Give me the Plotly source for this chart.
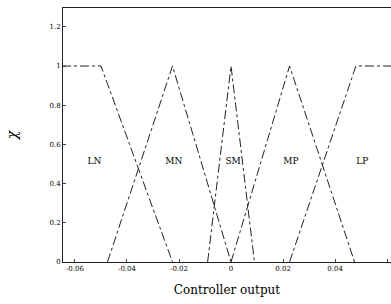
import plotly.graph_objects as go

# Membership functions (x in controller output units, y = membership grade)
ln_x = [-0.065, -0.05, -0.0225]
ln_y = [1, 1, 0]
mn_x = [-0.0475, -0.0225, 0.0]
mn_y = [0, 1, 0]
sm_x = [-0.009, 0.0, 0.009]
sm_y = [0, 1, 0]
mp_x = [0.0, 0.0225, 0.0475]
mp_y = [0, 1, 0]
lp_x = [0.0225, 0.048, 0.065]
lp_y = [0, 1, 1]

labels = ["LN", "MN", "SM", "MP", "LP"]
label_x = [-0.0525, -0.022, 0.0008, 0.023, 0.0505]
label_y = [0.51, 0.51, 0.51, 0.51, 0.51]

x_ticks = [-0.06, -0.04, -0.02, 0, 0.02, 0.04, 0.06]
x_tick_text = ["-0.06", "-0.04", "-0.02", "0", "0.02", "0.04", "0.06"]
y_ticks = [0, 0.2, 0.4, 0.6, 0.8, 1, 1.2]
y_tick_text = ["0", "0.2", "0.4", "0.6", "0.8", "1", "1.2"]

font = "DejaVu Serif"
fig = go.Figure()
for xs, ys in [(ln_x, ln_y), (mn_x, mn_y), (sm_x, sm_y), (mp_x, mp_y), (lp_x, lp_y)]:
    fig.add_trace(go.Scatter(x=xs, y=ys, mode="lines",
                             line=dict(color="#222", width=1, dash="dashdot"),
                             showlegend=False, hoverinfo="skip"))

fig.add_trace(go.Scatter(x=label_x, y=label_y, mode="text", text=labels,
                         textfont=dict(family=font, size=9, color="#000"),
                         showlegend=False, hoverinfo="skip"))

fig.update_layout(
    width=391, height=304,
    margin=dict(l=63, r=0, t=8, b=42, autoexpand=False),
    paper_bgcolor="white", plot_bgcolor="white",
    font=dict(family=font, color="#000"),
    xaxis=dict(range=[-0.0646, 0.0615], tickvals=x_ticks, ticktext=x_tick_text,
               showgrid=False, zeroline=False, showline=True, linecolor="#222",
               linewidth=1, mirror=True, ticks="inside", ticklen=3,
               tickfont=dict(size=7, family=font, color="#000"), automargin=False,
               title=dict(text="Controller output", font=dict(size=12, family=font),
                          standoff=13)),
    yaxis=dict(range=[0, 1.296], tickvals=y_ticks, ticktext=y_tick_text,
               showgrid=False, zeroline=False, showline=True, linecolor="#222",
               linewidth=1, mirror=False, ticks="inside", ticklen=3,
               tickfont=dict(size=7, family=font, color="#000"), automargin=False,
               title=dict(text="<i>χ</i>", font=dict(size=14, family=font),
                          standoff=28)),
)

fig.write_html("out.html",
               config={"displayModeBar": False},
               post_script="document.body.style.margin='0';"
                           "document.body.style.overflow='hidden';")
